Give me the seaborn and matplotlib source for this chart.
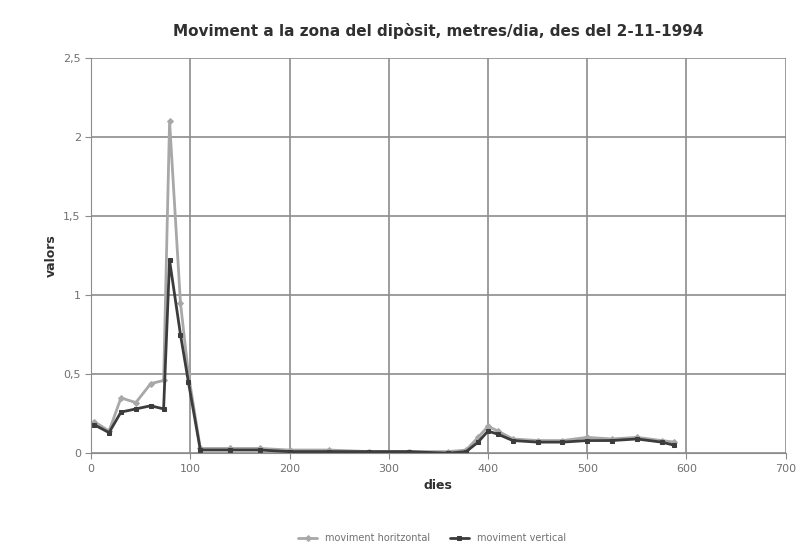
import pandas as pd
import matplotlib.pyplot as plt
import seaborn as sns

# dades llegides del gràfic (dies des del 2-11-1994, metres/dia)
dies = [3, 18, 30, 45, 60, 73, 79, 90, 98, 110, 140, 170, 200, 240, 280, 320,
        360, 378, 390, 400, 410, 425, 450, 475, 500, 525, 550, 575, 588]
horitzontal = [0.20, 0.14, 0.35, 0.32, 0.44, 0.46, 2.10, 0.95, 0.50, 0.03, 0.03, 0.03,
               0.02, 0.02, 0.01, 0.01, 0.01, 0.02, 0.10, 0.17, 0.14, 0.09, 0.08, 0.08,
               0.10, 0.09, 0.10, 0.08, 0.07]
vertical = [0.18, 0.13, 0.26, 0.28, 0.30, 0.28, 1.22, 0.75, 0.45, 0.02, 0.02, 0.02,
            0.01, 0.01, 0.01, 0.01, 0.00, 0.01, 0.07, 0.14, 0.12, 0.08, 0.07, 0.07,
            0.08, 0.08, 0.09, 0.07, 0.05]

xticks = [0, 100, 200, 300, 400, 500, 600, 700]
yticks = [0, 0.5, 1, 1.5, 2, 2.5]
ylabels = ["0", "0,5", "1", "1,5", "2", "2,5"]

taula = pd.DataFrame({"dies": dies, "h": horitzontal, "v": vertical})

sns.set_style("white")
plt.rcParams["font.family"] = ["DejaVu Sans"]

fig = plt.figure(figsize=(8, 5.52), dpi=100)
ax = fig.add_axes([0.114, 0.179, 0.868, 0.716])

sns.lineplot(data=taula, x="dies", y="h", ax=ax, color="#a8a8a8", linewidth=2,
             marker="D", markersize=3, markeredgecolor="#a8a8a8",
             label="moviment horitzontal")
sns.lineplot(data=taula, x="dies", y="v", ax=ax, color="#3c3c3c", linewidth=2,
             marker="s", markersize=3, markeredgecolor="#3c3c3c",
             label="moviment vertical")

ax.set_xlim(0, 700)
ax.set_ylim(0, 2.5)
ax.set_xticks(xticks)
ax.set_yticks(yticks)
ax.set_yticklabels(ylabels)
ax.grid(True, color="#8c8c8c", linewidth=1.2)
ax.set_axisbelow(True)
for s in ["top", "right"]:
    ax.spines[s].set_visible(False)
for s in ["left", "bottom"]:
    ax.spines[s].set_color("#8c8c8c")
ax.tick_params(axis="both", colors="#8c8c8c", labelcolor="#707070", labelsize=8,
               length=4, direction="out", bottom=True, left=True)

ax.set_xlabel("dies", fontsize=9, color="#303030", fontweight="bold")
ax.set_ylabel("valors", fontsize=9, color="#303030", fontweight="bold")
ax.set_title("Moviment a la zona del dipòsit, metres/dia, des del 2-11-1994",
             fontsize=11, color="#303030", fontweight="bold", pad=16)

ax.get_legend().remove()
handles, labels = ax.get_legend_handles_labels()
fig.legend(handles, labels, loc="lower center", bbox_to_anchor=(0.54, 0.0),
           ncol=2, frameon=False, fontsize=7, labelcolor="#707070",
           handlelength=2, columnspacing=2)

fig.savefig("out.png", dpi=100)
